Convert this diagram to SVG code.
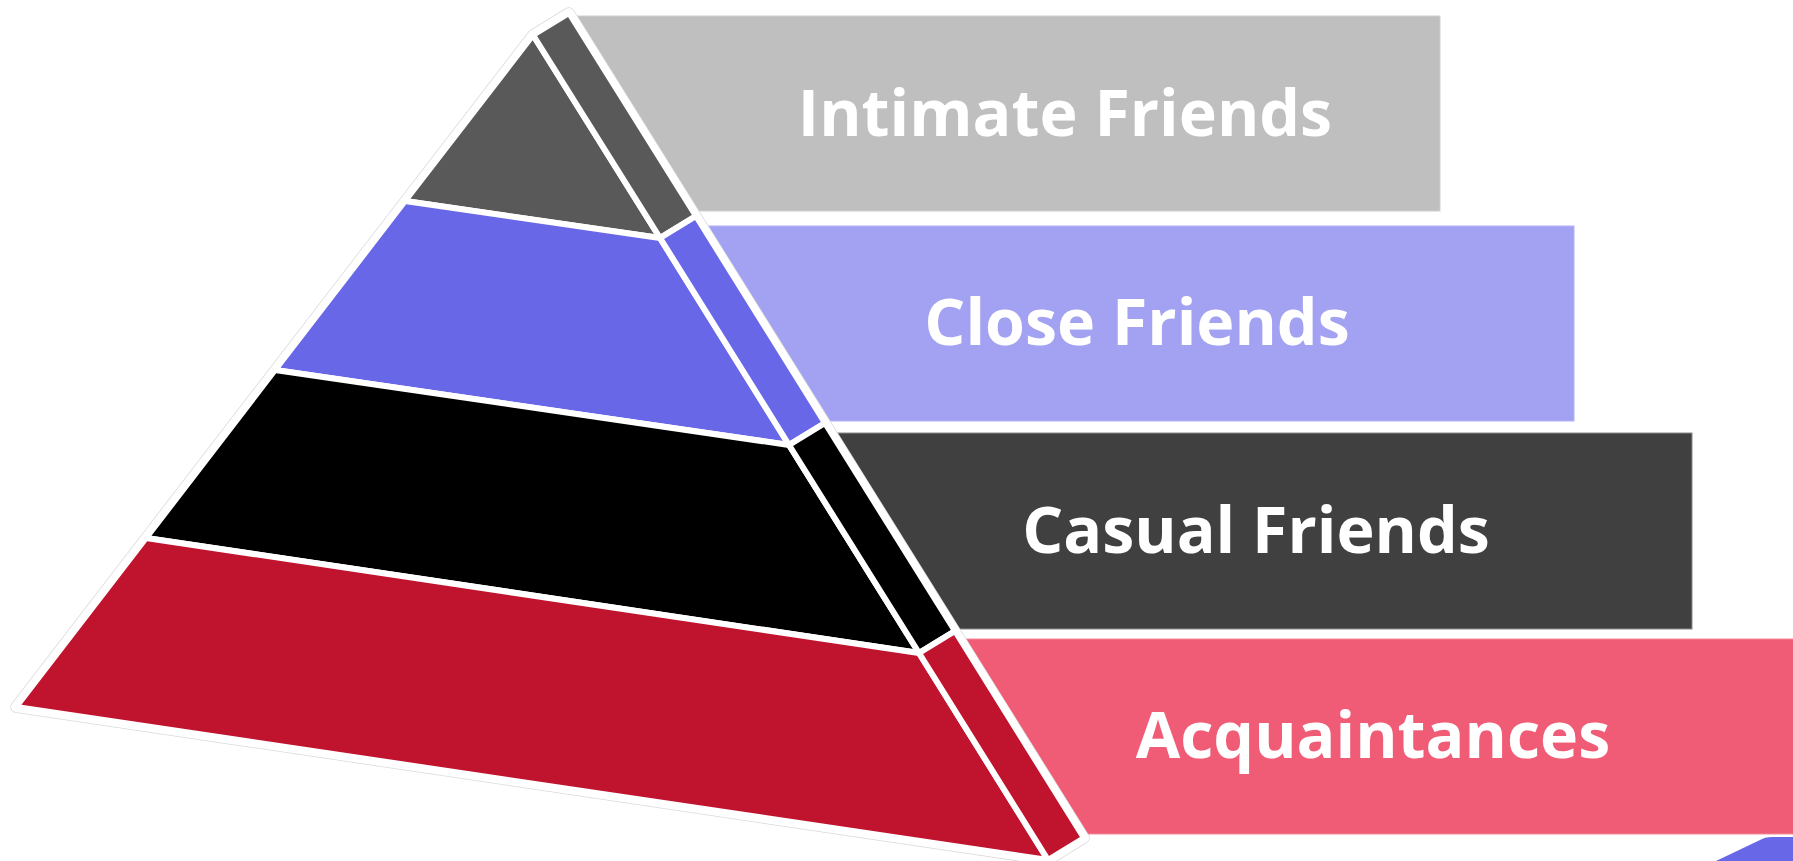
<svg xmlns="http://www.w3.org/2000/svg" width="1793" height="861" viewBox="0 0 1793 861">
  <style>
    .lbl { font-family: "Open Sans", "Noto Sans", "Liberation Sans", sans-serif; font-weight: 700; font-size: 64.5px; fill: #ffffff; text-anchor: middle; }
    .face { stroke: #ffffff; stroke-width: 6; stroke-linejoin: round; }
    .g { fill: #595959; }
    .p { fill: #6767e7; }
    .k { fill: #000000; }
    .r { fill: #c0132e; }
  </style>
  <rect width="1793" height="861" fill="#ffffff"/>

  <g id="corner-shape">
    <path d="M1716,861 L1760,840 Q1765,837 1772,837 L1793,837 L1793,861 Z" fill="#6767e7"/>
  </g>

  <g id="label-intimate">
    <rect x="565" y="16" width="875" height="195" fill="#bfbfbf" stroke="#cfcfcf" stroke-width="1"/>
    <text class="lbl" x="1065" y="136">Intimate Friends</text>
  </g>
  <g id="label-close">
    <rect x="680" y="226" width="894" height="195" fill="#a3a2f2" stroke="#b3b2f6" stroke-width="1"/>
    <text class="lbl" x="1137" y="345">Close Friends</text>
  </g>
  <g id="label-casual">
    <rect x="800" y="433" width="892" height="196" fill="#404040" stroke="#8a8a8a" stroke-width="1"/>
    <text class="lbl" x="1256" y="553">Casual Friends</text>
  </g>
  <g id="label-acquaintances">
    <rect x="930" y="639" width="870" height="195" fill="#f05c75" stroke="#f4899a" stroke-width="1"/>
    <text class="lbl" x="1373" y="758">Acquaintances</text>
  </g>

  <g id="pyramid">
    <polygon points="533,35 569,13 1084,838 1048,860 16,707" fill="#ffffff" stroke="#dadada" stroke-width="11.5" stroke-linejoin="round"/>
    <polygon points="533,35 569,13 1084,838 1048,860 16,707" fill="#ffffff" stroke="#ffffff" stroke-width="10" stroke-linejoin="round"/>

    <g id="tier-intimate">
      <polygon class="face g" points="533,35 660,238 405,201"/>
      <polygon class="face g" points="533,35 569,13 696,216 660,238"/>
    </g>
    <g id="tier-close">
      <polygon class="face p" points="405,201 660,238 789,445 275,370"/>
      <polygon class="face p" points="660,238 696,216 825,423 789,445"/>
    </g>
    <g id="tier-casual">
      <polygon class="face k" points="275,370 789,445 919,653 146,538"/>
      <polygon class="face k" points="789,445 825,423 955,631 919,653"/>
    </g>
    <g id="tier-acquaintances">
      <polygon class="face r" points="146,538 919,653 1048,860 16,707"/>
      <polygon class="face r" points="919,653 955,631 1084,838 1048,860"/>
    </g>
  </g>
</svg>
